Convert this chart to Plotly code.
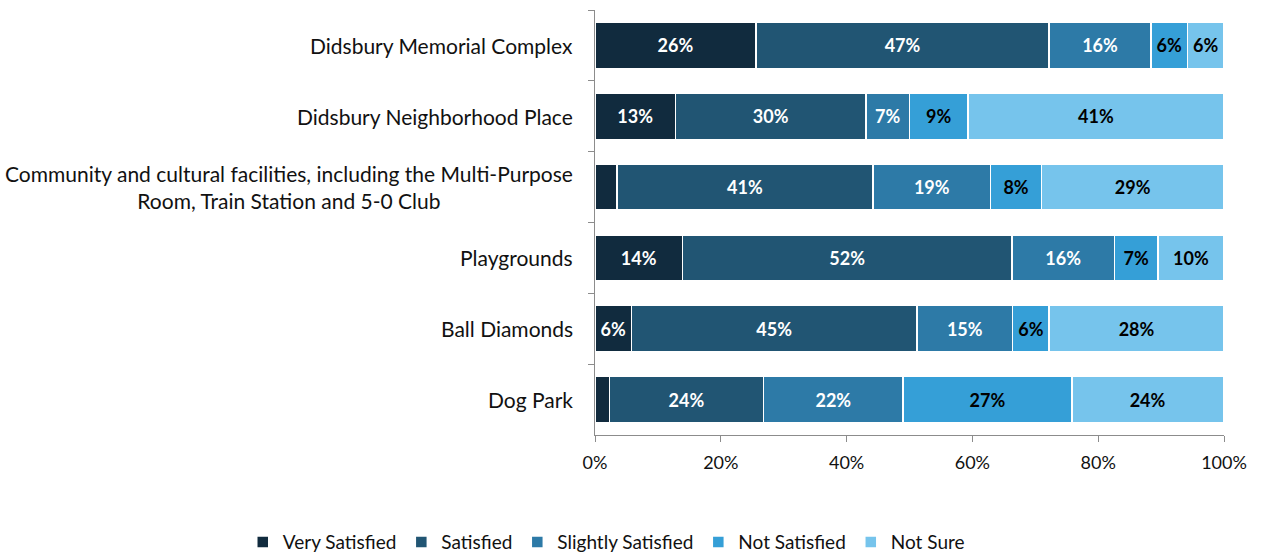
import plotly.graph_objects as go

categories = [
    "Didsbury Memorial Complex",
    "Didsbury Neighborhood Place",
    "Community and cultural facilities, including the Multi-Purpose<br>Room, Train Station and 5-0 Club",
    "Playgrounds",
    "Ball Diamonds",
    "Dog Park",
]

series_names = ["Very Satisfied", "Satisfied", "Slightly Satisfied", "Not Satisfied", "Not Sure"]

very_satisfied = [25.6, 12.8, 3.5, 13.9, 5.8, 2.3]
satisfied = [46.6, 30.3, 40.7, 52.4, 45.4, 24.5]
slightly_satisfied = [16.2, 6.9, 18.7, 16.3, 15.2, 22.2]
not_satisfied = [5.8, 9.3, 8.1, 6.9, 5.8, 26.8]
not_sure = [5.8, 40.7, 29.0, 10.5, 27.8, 24.1]

series_values = [very_satisfied, satisfied, slightly_satisfied, not_satisfied, not_sure]
colors = ["#112b3e", "#215573", "#2d7aa7", "#359fd7", "#76c4ec"]
label_colors = ["white", "white", "white", "black", "black"]

x_ticks = [0, 20, 40, 60, 80, 100]
x_tick_labels = ["0%", "20%", "40%", "60%", "80%", "100%"]

FONT = "Lato, Calibri, sans-serif"

fig = go.Figure()
for name, vals, col, lc in zip(series_names, series_values, colors, label_colors):
    texts = [f"<b>{v:.0f}%</b>" if v >= 4.5 else "" for v in vals]
    fig.add_trace(go.Bar(
        y=categories,
        x=vals,
        name=name,
        orientation="h",
        marker=dict(color=col, line=dict(color="white", width=1.5)),
        text=texts,
        textposition="inside",
        insidetextanchor="middle",
        textangle=0,
        constraintext="none",
        textfont=dict(family=FONT, size=18, color=lc),
        hoverinfo="x+name",
    ))

# Category labels, centred line by line and right-aligned to the axis
for cat in categories:
    fig.add_annotation(
        x=0, xref="paper", xanchor="right", xshift=-20,
        y=cat, yref="y", yanchor="middle",
        text=cat, showarrow=False, align="center",
        font=dict(family=FONT, size=21, color="#111111"),
    )

fig.update_layout(
    barmode="stack",
    bargap=0.35,
    width=1263,
    height=554,
    margin=dict(l=595, r=39, t=10, b=119, autoexpand=False),
    paper_bgcolor="white",
    plot_bgcolor="white",
    font=dict(family=FONT, size=18, color="#111111"),
    legend=dict(
        orientation="h",
        x=-0.56, xanchor="left",
        y=-0.252, yanchor="middle",
        font=dict(family=FONT, size=19, color="#111111"),
        traceorder="normal",
        itemwidth=30,
    ),
    xaxis=dict(
        range=[0, 100],
        tickvals=x_ticks,
        ticktext=x_tick_labels,
        showgrid=False,
        zeroline=False,
        showline=True,
        linecolor="#8c8c8c",
        linewidth=1.3,
        ticks="outside",
        ticklen=6,
        tickcolor="#8c8c8c",
        ticklabelstandoff=5,
        tickfont=dict(family=FONT, size=18, color="#111111"),
    ),
    yaxis=dict(
        categoryorder="array",
        categoryarray=categories,
        autorange="reversed",
        showticklabels=False,
        showgrid=False,
        showline=True,
        linecolor="#8c8c8c",
        linewidth=1.3,
        ticks="outside",
        tickson="boundaries",
        ticklen=6,
        tickcolor="#8c8c8c",
    ),
)

fig.write_html("out.html")
